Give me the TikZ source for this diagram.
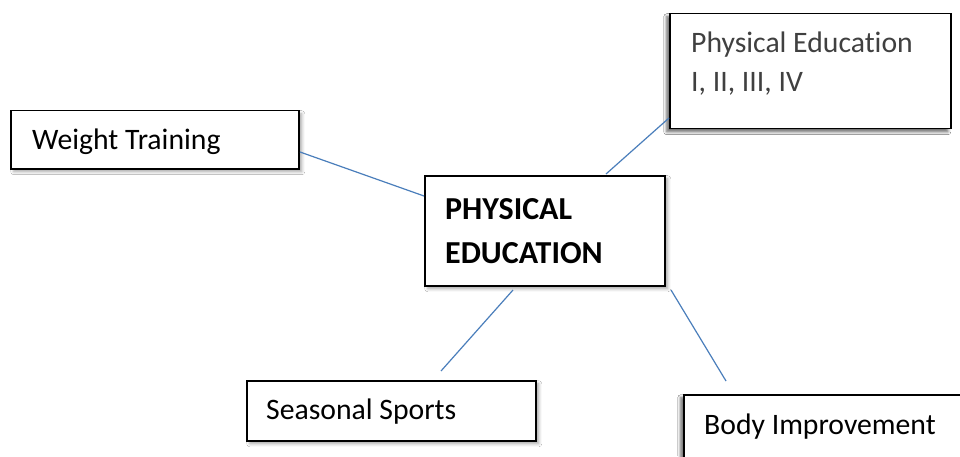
\documentclass[tikz,border=0pt]{standalone}
\usepackage{fontspec}
\setmainfont[Ligatures=NoCommon]{Carlito}
\usetikzlibrary{shadows.blur}
\definecolor{linkblue}{HTML}{4A7EBB}
\definecolor{pegrey}{HTML}{404040}
\tikzset{
  box/.style={draw=black, line width=1.5pt, fill=white, rectangle, anchor=north west, inner sep=0pt,
    blur shadow={shadow xshift=3pt, shadow yshift=-3pt, shadow blur radius=3pt, shadow opacity=35}},
  boxleft/.style={box, blur shadow={shadow xshift=-3pt, shadow yshift=-3pt, shadow blur radius=3pt, shadow opacity=35}},
  label/.style={anchor=base west, inner sep=0pt, font=\fontsize{29.7}{34}\selectfont},
  boldlabel/.style={label, font=\fontsize{32}{38}\selectfont\bfseries},
  link/.style={draw=linkblue, line width=1.2pt}
}
\begin{document}
\begin{tikzpicture}[x=1pt,y=1pt]
\useasboundingbox (0,0) rectangle (960,456);
\fill[white] (0,0) rectangle (960,456);
% boxes
\node[box, minimum width=288pt, minimum height=58pt] (wt) at (10,346) {};
\node[box, minimum width=240pt, minimum height=110pt] (pe) at (424,281) {};
\node[boxleft, minimum width=281pt, minimum height=115pt] (pe4) at (669,443) {};
\node[box, minimum width=289pt, minimum height=60pt] (ss) at (246,76) {};
\node[boxleft, minimum width=300pt, minimum height=80pt] (bi) at (683,62) {};
% texts
\node[label] (wtt) at (32,307) {Weight Training};
\node[boldlabel] (pet1) at (445,237) {PHYSICAL};
\node[boldlabel] (pet2) at (445,193) {EDUCATION};
\node[label, text=pegrey] (pe4t1) at (691,403) {Physical Education};
\node[label, text=pegrey] (pe4t2) at (691,364) {I, II, III, IV};
\node[label] (sst) at (266,37) {Seasonal Sports};
\node[label] (bit) at (704,22) {Body Improvement};
% connector ends
\coordinate (a1) at (300,304);
\coordinate (a2) at (424,260);
\coordinate (b1) at (606,282);
\coordinate (b2) at (669,338);
\coordinate (c1) at (513,166);
\coordinate (c2) at (441,85);
\coordinate (d1) at (671,166);
\coordinate (d2) at (726,75);
\draw[link] (a1) -- (a2);
\draw[link] (b1) -- (b2);
\draw[link] (c1) -- (c2);
\draw[link] (d1) -- (d2);
\end{tikzpicture}
\end{document}
